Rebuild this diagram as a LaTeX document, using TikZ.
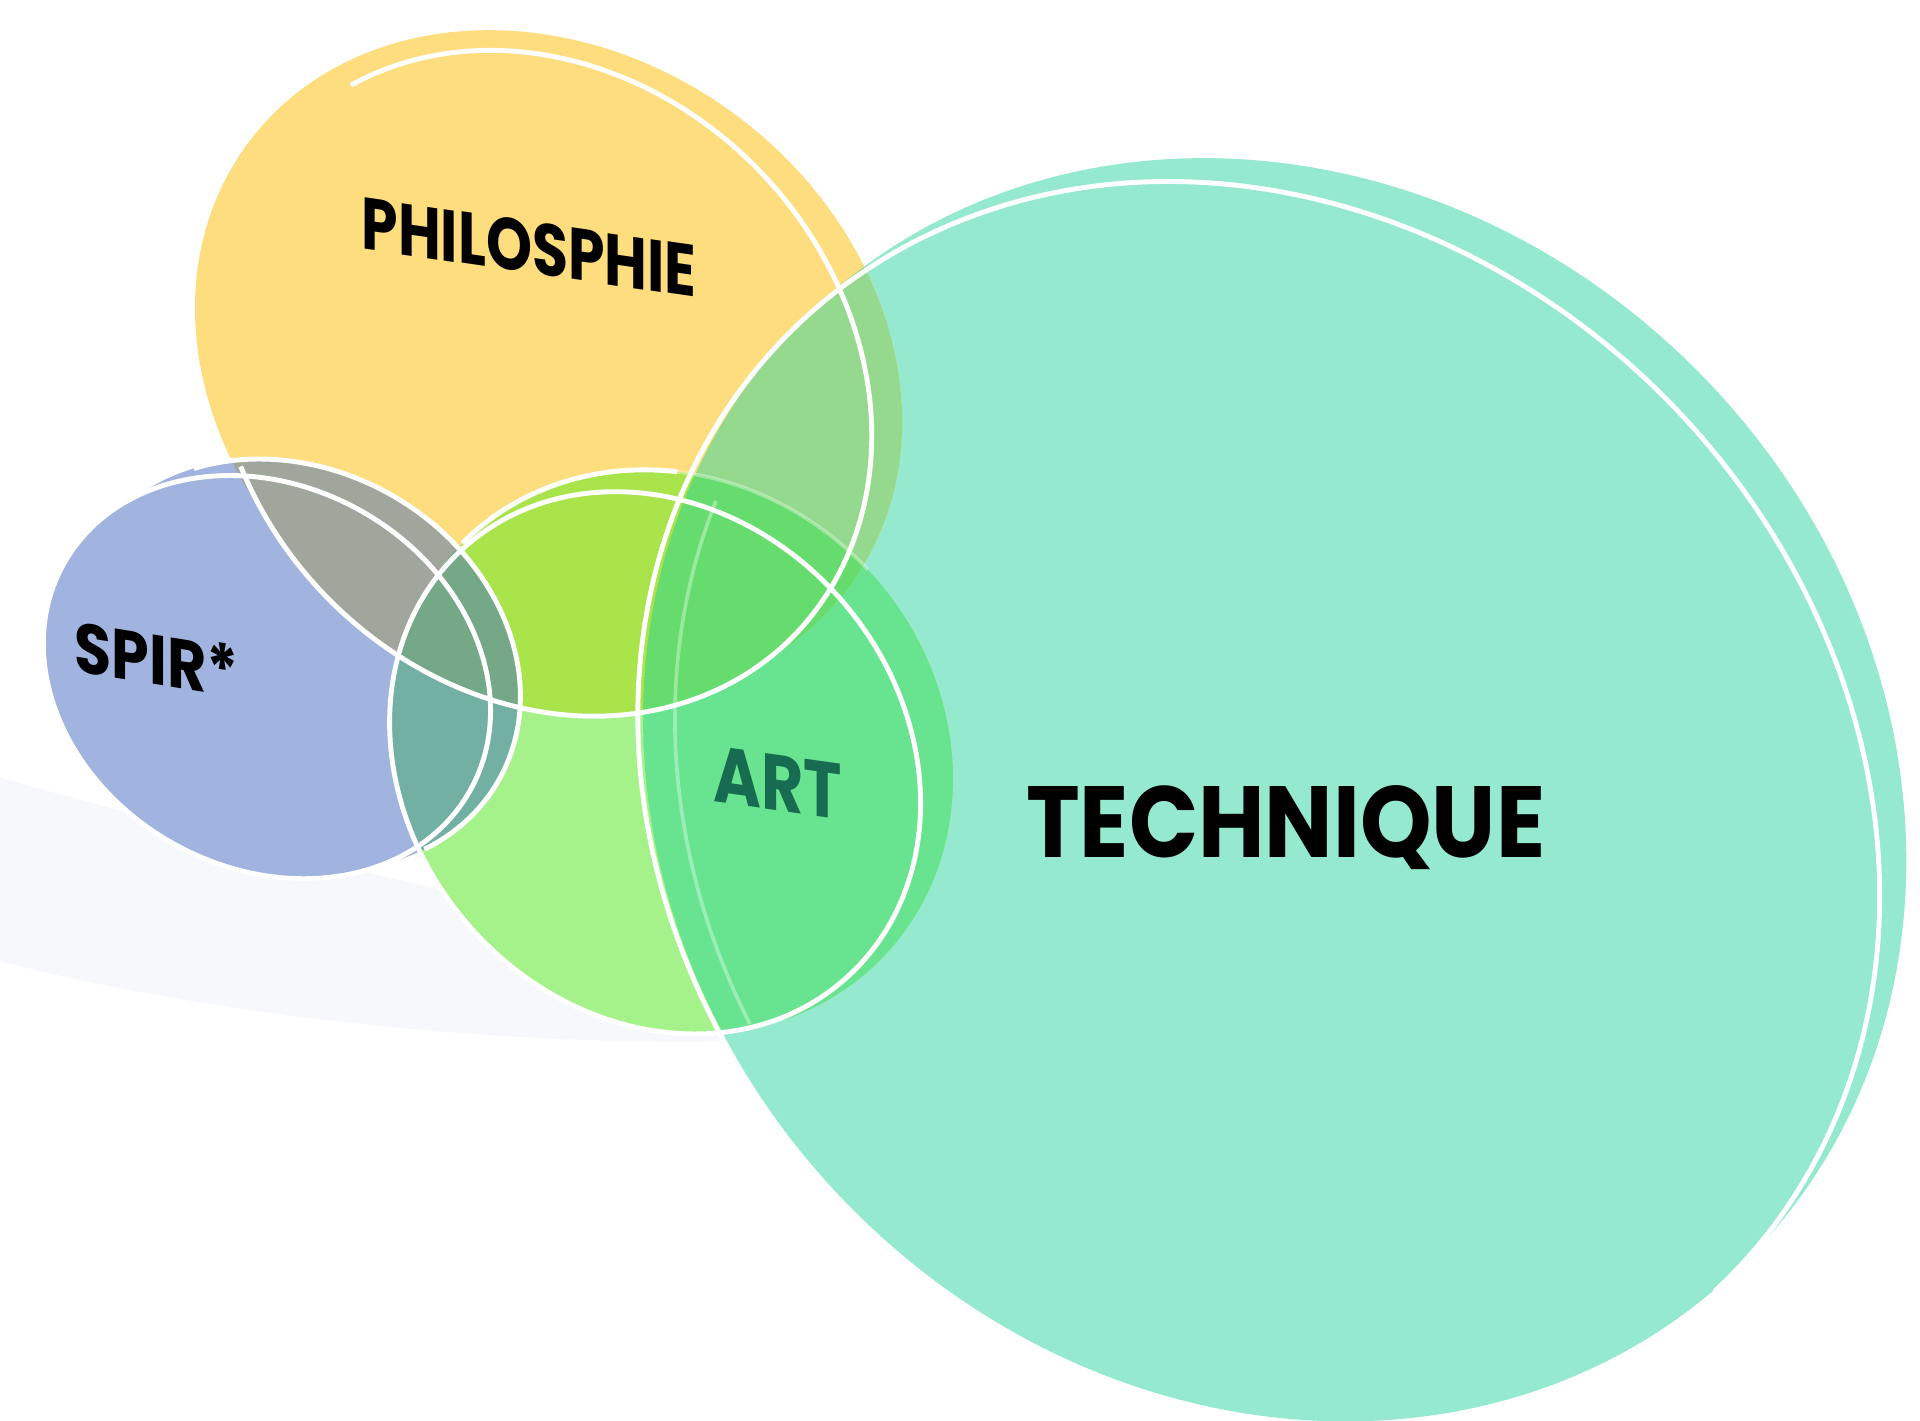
\documentclass[tikz,border=0pt]{standalone}
\usepackage{fontspec}
\setmainfont{Poppins}
\usepackage{tikz}

\definecolor{techc}{HTML}{94E9CF}
\definecolor{philoc}{HTML}{FDDD7E}
\definecolor{spirc}{HTML}{A1B4DF}
\definecolor{artc}{HTML}{A6F28A}
\definecolor{philotech}{HTML}{95D98F}
\definecolor{philospir}{HTML}{A0A69C}
\definecolor{arttech}{HTML}{68E390}
\definecolor{artphilo}{HTML}{A8E44A}
\definecolor{artphilotech}{HTML}{66DC6E}
\definecolor{artspir}{HTML}{73B0A4}
\definecolor{artspirphilo}{HTML}{74A886}
\definecolor{shadowc}{HTML}{F7F8FC}
\definecolor{arttext}{HTML}{176B50}

% filled areas (yellow and blue are two ellipses put together)
\def\philoshape{{[shift={(443,847)},rotate=-47] (0,0) ellipse [x radius=291, y radius=248]}
    {[shift={(448,862)},rotate=-36] (0,0) ellipse [x radius=305, y radius=255]}}
\def\spirshape{{[shift={(218,607)},rotate=-29] (0,0) ellipse [x radius=190, y radius=156]}
    {[shift={(240,617)},rotate=-29] (0,0) ellipse [x radius=192, y radius=160]}}
\def\artshape{{[shift={(548,546)},rotate=-45] (0,0) ellipse [x radius=241, y radius=219]}}
\def\techshape{{[shift={(1041,515)},rotate=-45] (0,0) ellipse [x radius=544, y radius=486]}}

\begin{document}
\begin{tikzpicture}[x=0.1mm,y=0.1mm,
    rim/.style={draw=white, line width=0.4mm},
    faint/.style={draw=white, draw opacity=0.35, line width=0.3mm},
    labelstyle/.style={font=\bfseries, inner sep=0pt, anchor=base}]
    \useasboundingbox (0,0) rectangle (1568,1160);
    % shadow under the circles
    \fill[shadowc] (0,525) .. controls (300,440) and (600,380) .. (830,338)
        .. controls (650,285) and (250,310) .. (0,375) -- cycle;
    % fills
    \fill[techc] \techshape;
    \fill[philoc] \philoshape;
    \begin{scope}
        \clip \philoshape;
        \fill[philotech] \techshape;
    \end{scope}
    \fill[spirc] \spirshape;
    \begin{scope}
        \clip \spirshape;
        \fill[philospir] \philoshape;
    \end{scope}
    \fill[artc] \artshape;
    \begin{scope}
        \clip \artshape;
        \fill[arttech] \techshape;
        \fill[artphilo] \philoshape;
        \fill[artspir] \spirshape;
        \begin{scope}
            \clip \philoshape;
            \fill[artphilotech] \techshape;
        \end{scope}
        \begin{scope}
            \clip \spirshape;
            \fill[artspirphilo] \philoshape;
        \end{scope}
    \end{scope}
    % faint inner edges
    \draw[faint, shift={(1067,515)}, rotate=-45] (201:544 and 486)
        arc [start angle=201, end angle=250, x radius=544, y radius=486];
    \draw[faint, shift={(548,546)}, rotate=-45] (131:241 and 219)
        arc [start angle=131, end angle=88, x radius=241, y radius=219];
    % white rims
    \draw[rim, shift={(443,847)}, rotate=-47] (246:291 and 248)
        arc [start angle=246, end angle=528, x radius=291, y radius=248];
    \draw[rim, shift={(218,607)}, rotate=-29] (0,0) ellipse [x radius=190, y radius=156];
    \draw[rim, shift={(240,617)}, rotate=-29] (141:192 and 160)
        arc [start angle=141, end angle=-30, x radius=192, y radius=160];
    \draw[rim, shift={(535,537)}, rotate=-49] (0,0) ellipse [x radius=235, y radius=202];
    \draw[rim, shift={(548,546)}, rotate=-45] (180:241 and 219)
        arc [start angle=180, end angle=131, x radius=241, y radius=219];
    \draw[rim, shift={(1028,502)}, rotate=-46] (253:544 and 470)
        arc [start angle=253, end angle=-1, x radius=544, y radius=470];
    % labels
    \node (philo) at (432,937)[labelstyle, yslant=-0.145]{\scalebox{0.8}[1]{\fontsize{17pt}{17pt}\selectfont PHILOSPHIE}};
    \node (spir) at (128,601)[labelstyle, yslant=-0.16]{\scalebox{0.86}[1]{\fontsize{16.3pt}{16pt}\selectfont SPIR*}};
    \node (art) at (635,498)[labelstyle, yslant=-0.14, text=arttext]{\scalebox{0.82}[1]{\fontsize{18.4pt}{18pt}\selectfont ART}};
    \node (tech) at (1050,460)[labelstyle]{\scalebox{0.9}[1]{\fontsize{23.5pt}{24pt}\selectfont TECHNIQUE}};
\end{tikzpicture}
\end{document}
